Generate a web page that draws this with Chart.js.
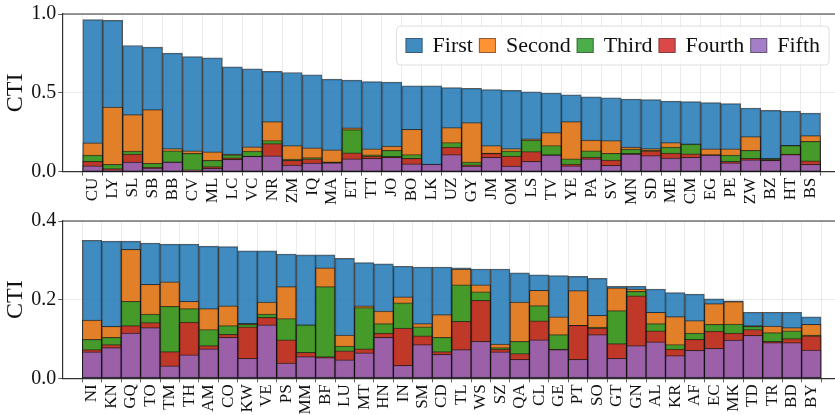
<!DOCTYPE html>
<html>
<head>
<meta charset="utf-8">
<script src="https://cdn.jsdelivr.net/npm/chart.js@4.4.1/dist/chart.umd.min.js"></script>
<style>
  html, body { margin: 0; padding: 0; background: #fff; overflow: hidden; }
  #wrap { position: relative; width: 835px; height: 415px; overflow: hidden; }
  canvas { position: absolute; left: 0; }
  #topChart { top: 0; }
  #bottomChart { top: 207px; }
</style>
</head>
<body>
<div id="wrap">
  <canvas id="topChart" width="841" height="207"></canvas>
  <canvas id="bottomChart" width="841" height="208"></canvas>
</div>
<script>
// country codes, one bar each
const labelsTop = ['CU','LY','SL','SB','BB','CV','ML','LC','VC','NR','ZM','IQ','MA','ET','TT','JO','BO','LK','UZ',
    'GY','JM','OM','LS','TV','YE','PA','SV','MN','SD','ME','CM','EG','PE','ZW','BZ','HT','BS'];
const labelsBottom = ['NI','KN','GQ','TO','TM','TH','AM','CO','KW','VE','PS','MM','BF','LU','MT','HN','IN','SM','CD',
    'TL','WS','SZ','QA','CL','GE','PT','SO','GT','GN','AL','KR','AF','EC','MK','TD','TR','BD','BY'];

// CTI per quintile (bars overlap, all start at zero)
const firstTop  = [.964,.960,.800,.790,.752,.730,.722,.665,.653,.636,.629,.615,.587,.581,.571,.568,.545,.545,.533,
    .528,.520,.516,.507,.499,.488,.474,.469,.461,.457,.448,.444,.438,.432,.404,.389,.385,.371];
const secondTop = [.183,.410,.362,.394,.147,.133,.126,.112,.158,.318,.166,.152,.139,.278,.145,.162,.269,.046,.280,
    .312,.166,.147,.208,.248,.318,.200,.198,.156,.147,.185,.176,.145,.145,.223,.084,.168,.229];
const thirdTop  = [.105,.046,.130,.053,.133,.116,.072,.107,.130,.198,.080,.090,.063,.267,.107,.135,.109,.046,.185,
    .061,.118,.131,.200,.166,.082,.133,.116,.143,.137,.156,.175,.108,.105,.135,.080,.166,.192];
const fourthTop = [.065,.020,.112,.030,.063,.012,.032,.088,.099,.179,.072,.082,.060,.120,.099,.097,.084,.046,.156,
    .044,.116,.099,.128,.109,.048,.093,.074,.116,.133,.118,.114,.107,.065,.084,.076,.112,.069];
const fifthTop  = [.038,.010,.061,.023,.061,.010,.021,.078,.097,.101,.042,.055,.057,.082,.084,.091,.050,.048,.109,
    .036,.091,.036,.065,.105,.038,.082,.040,.112,.103,.086,.091,.105,.057,.076,.072,.109,.046];

const firstBottom  = [.351,.349,.349,.344,.341,.341,.336,.335,.324,.324,.316,.314,.314,.305,.294,.291,.285,.283,.283,
    .281,.278,.278,.268,.263,.261,.259,.254,.234,.234,.227,.218,.214,.202,.197,.168,.168,.168,.156];
const secondBottom = [.148,.132,.328,.239,.245,.196,.177,.184,.140,.194,.233,.136,.281,.110,.184,.171,.207,.139,.162,
    .278,.238,.087,.194,.224,.156,.223,.160,.230,.227,.168,.157,.147,.190,.195,.134,.133,.129,.137];
const thirdBottom  = [.099,.104,.196,.163,.183,.177,.124,.134,.137,.163,.152,.136,.233,.082,.180,.139,.192,.131,.104,
    .238,.220,.078,.094,.185,.111,.135,.130,.172,.221,.139,.086,.115,.137,.138,.132,.116,.121,.110];
const fourthBottom = [.073,.086,.134,.142,.068,.143,.083,.112,.131,.155,.098,.066,.055,.070,.075,.115,.128,.108,.068,
    .145,.198,.074,.063,.146,.074,.135,.128,.088,.210,.121,.074,.099,.120,.115,.124,.094,.101,.108];
const fifthBottom  = [.067,.078,.115,.129,.032,.060,.075,.104,.051,.136,.039,.055,.053,.047,.065,.104,.033,.086,.061,
    .073,.094,.067,.048,.098,.073,.048,.111,.051,.083,.093,.058,.071,.076,.097,.109,.091,.091,.072];

const seriesNames = ['First', 'Second', 'Third', 'Fourth', 'Fifth'];
const seriesColors = ['rgba(31,119,180,0.85)', 'rgba(255,127,14,0.85)', 'rgba(44,160,44,0.85)',
    'rgba(214,39,40,0.85)', 'rgba(148,103,189,0.85)'];

const SERIF = '"Liberation Serif", "Times New Roman", serif';

// matplotlib-ish top spine
const topSpine = {
    id: 'topSpine',
    afterDraw(chart) {
        const ctx = chart.ctx, a = chart.chartArea;
        ctx.save();
        ctx.strokeStyle = '#333';
        ctx.lineWidth = 1.2;
        ctx.beginPath();
        ctx.moveTo(a.left, a.top);
        ctx.lineTo(a.right, a.top);
        ctx.stroke();
        ctx.restore();
    }
};

// legend drawn inside the plot, top right
const legendBox = {
    id: 'legendBox',
    afterDraw(chart) {
        const ctx = chart.ctx, a = chart.chartArea;
        ctx.save();
        ctx.font = '22px ' + SERIF;
        const patchW = 17, patchH = 15, gapText = 10, gapItem = 6, pad = 9, h = 39;
        const items = chart.data.datasets.map(d => ({
            label: d.label, color: d.backgroundColor, w: ctx.measureText(d.label).width
        }));
        const total = pad * 2 + items.reduce((s, it) => s + patchW + gapText + it.w, 0) + gapItem * (items.length - 1);
        const right = a.right - 12, top = a.top + 12;
        const left = right - total;
        ctx.beginPath();
        ctx.roundRect(left, top, total, h, 4);
        ctx.fillStyle = 'rgba(255,255,255,0.8)';
        ctx.fill();
        ctx.strokeStyle = '#dedede';
        ctx.lineWidth = 1;
        ctx.stroke();
        let x = left + pad;
        const cy = top + h / 2;
        items.forEach(it => {
            ctx.fillStyle = it.color;
            ctx.fillRect(x, cy - patchH / 2, patchW, patchH);
            ctx.strokeStyle = 'rgba(60,60,60,0.6)';
            ctx.strokeRect(x + 0.5, cy - patchH / 2 + 0.5, patchW - 1, patchH - 1);
            x += patchW + gapText;
            ctx.fillStyle = '#111';
            ctx.textBaseline = 'middle';
            ctx.fillText(it.label, x, cy + 1);
            x += it.w + gapItem;
        });
        ctx.restore();
    }
};

function makeChart(id, labels, series, yMax, yStep, xAxisHeight, withLegend) {
    const plugins = [topSpine];
    if (withLegend) plugins.push(legendBox);
    return new Chart(document.getElementById(id), {
        type: 'bar',
        data: {
            datasets: series.map((vals, k) => ({
                label: seriesNames[k],
                data: vals.map((v, i) => ({ x: i, y: v })),
                backgroundColor: seriesColors[k],
                borderColor: 'rgba(20,20,20,0.7)',
                borderWidth: 1,
                borderSkipped: false,
                barPercentage: 1,
                categoryPercentage: 1,
                order: 5 - k // First at the back, Fifth in front
            }))
        },
        plugins: plugins,
        options: {
            responsive: false,
            animation: false,
            layout: { padding: { top: 13, left: 0, right: 0, bottom: 0 } },
            plugins: { legend: { display: false }, tooltip: { enabled: false } },
            scales: {
                x: {
                    type: 'linear',
                    stacked: true,
                    min: -1,
                    max: labels.length,
                    z: 1,
                    afterBuildTicks: axis => { axis.ticks = labels.map((_, i) => ({ value: i })); },
                    afterFit: axis => { axis.height = xAxisHeight; },
                    ticks: {
                        autoSkip: false,
                        minRotation: 90,
                        maxRotation: 90,
                        padding: 2,
                        color: '#111',
                        font: { family: SERIF, size: 17 },
                        callback: v => labels[v]
                    },
                    grid: { color: 'rgba(200,200,200,0.45)', lineWidth: 0.8, tickLength: 4, tickColor: '#333' },
                    border: { color: '#333', width: 1.2 }
                },
                y: {
                    min: 0,
                    max: yMax,
                    z: 1,
                    afterFit: axis => { axis.width = 62.3; },
                    ticks: {
                        stepSize: yStep,
                        padding: 2,
                        color: '#111',
                        font: { family: SERIF, size: 20 },
                        callback: v => v.toFixed(1)
                    },
                    grid: { color: 'rgba(200,200,200,0.45)', lineWidth: 0.8, tickLength: 4, tickColor: '#333' },
                    border: { color: '#333', width: 1.2 },
                    title: {
                        display: true,
                        text: 'CTI',
                        color: '#111',
                        font: { family: SERIF, size: 24 },
                        padding: { top: 1, bottom: 0 }
                    }
                }
            }
        }
    });
}

makeChart('topChart', labelsTop, [firstTop, secondTop, thirdTop, fourthTop, fifthTop], 1.0, 0.5, 35.3, true);
makeChart('bottomChart', labelsBottom, [firstBottom, secondBottom, thirdBottom, fourthBottom, fifthBottom], 0.4, 0.2, 36.7, false);
</script>
</body>
</html>
